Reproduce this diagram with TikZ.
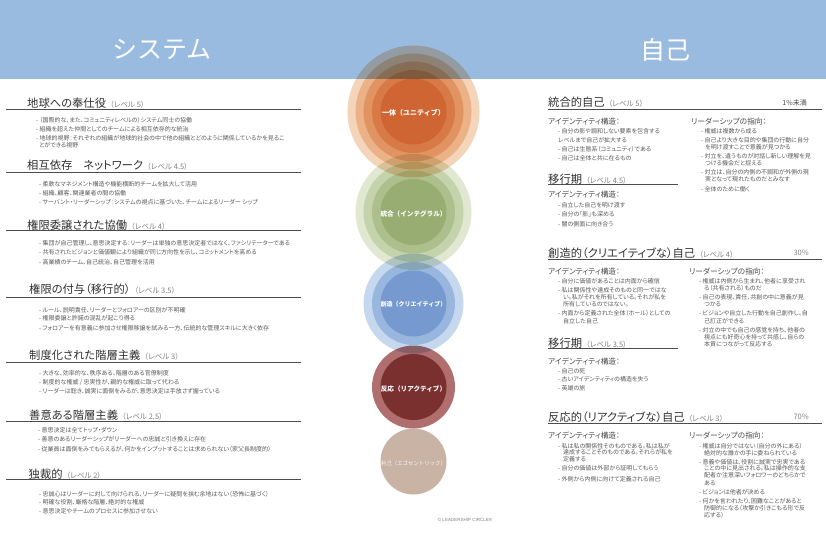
\documentclass[tikz,border=0pt]{standalone}
\usepackage{fontspec}
\setmainfont{Noto Sans CJK JP}[RawFeature=+palt]
\newfontfamily\nopalt{Noto Sans CJK JP}
\newfontfamily\lat{Liberation Sans}
\definecolor{band}{HTML}{9ABBE0}
\definecolor{orangeL}{HTML}{F5D5BA}
\definecolor{greenL}{HTML}{E0E8D1}
\definecolor{blueL}{HTML}{C6D8EE}
\definecolor{redL}{HTML}{B06F6E}
\definecolor{tanL}{HTML}{C9B3A4}
\definecolor{bodyc}{HTML}{5A5A5A}
\definecolor{subc}{HTML}{4A4A4A}
\definecolor{headc}{HTML}{303030}
\definecolor{levc}{HTML}{808080}
\tikzset{
  layer/.style={blend mode=multiply},
  ringtxt/.style={anchor=center,inner sep=0pt,text=white},
  bodytxt/.style={anchor=base west,inner sep=0pt,text=bodyc,yshift=-2pt,font=\fontsize{6}{7}\selectfont},
  subtxt/.style={anchor=base west,inner sep=0pt,text=subc,yshift=-2.5pt,font=\fontsize{7.7}{9}\selectfont},
  headtxt/.style={anchor=base west,inner sep=0pt,text=headc,yshift=-4pt,font=\fontsize{11.3}{13}\selectfont},
  pcttxt/.style={anchor=base east,inner sep=0pt,text=levc,yshift=-2.5pt,font=\fontsize{7.5}{8}\selectfont},
  rulel/.style={draw=black!70,line width=0.9pt},
  titletxt/.style={anchor=center,inner sep=0pt,text=white,font=\nopalt\fontsize{25}{28}\selectfont},
}
\newcommand{\bl}[3]{\node[bodytxt] at (#1,#2) {#3};}
\newcommand{\hd}[4]{\node[headtxt] at (#1,#2) {#3\hspace{4pt}{\fontsize{7.5}{8}\selectfont\color{levc}#4}};}
\newcommand{\sh}[3]{\node[subtxt] at (#1,#2) {#3};}
\begin{document}
\begin{tikzpicture}[x=1pt,y=-1pt]
\useasboundingbox (0,0) rectangle (826,540);
\fill[white] (0,0) rectangle (826,540);
\fill[band] (0,0) rectangle (826,79);
\node[titletxt] (tsys) at (162,50) {システム};
\node[titletxt] (tself) at (665,50) {自己};
% rings
\foreach \r in {66,58,50,41.5,33} \fill[orangeL,layer] (413.5,111.5) circle (\r);
\foreach \r in {58,50,41.5,33} \fill[greenL,layer] (413.5,212) circle (\r);
\foreach \r in {50,41.5,33} \fill[blueL,layer] (413.5,303.5) circle (\r);
\foreach \r in {41.5,33} \fill[redL,layer] (413.5,387) circle (\r);
\fill[tanL,layer] (413.5,461.5) circle (33);
\node[ringtxt,font=\nopalt\bfseries\fontsize{7}{8}\selectfont] (r1) at (413.5,112.7) {一体（ユニティブ）};
\node[ringtxt,font=\nopalt\bfseries\fontsize{6.6}{8}\selectfont] (r2) at (413.5,214) {統合（インテグラル）};
\node[ringtxt,font=\nopalt\bfseries\fontsize{6}{8}\selectfont] (r3) at (413.5,304) {創造（クリエイティブ）};
\node[ringtxt,font=\nopalt\bfseries\fontsize{6.6}{8}\selectfont] (r4) at (413.5,389) {反応（リアクティブ）};
\node[ringtxt,font=\nopalt\fontsize{5.4}{8}\selectfont,text=white!90!tanL] (r5) at (413.5,463) {利己（エゴセントリック）};
% left rules
\foreach \y in {109,172.3,230.7,297,362,421.7,479.7} \draw[rulel] (6,\y) -- (300.5,\y);
% left column
\hd{27}{104}{地球への奉仕役}{（レベル 5）}
\bl{36}{120.7}{- （国際的な、また、コミュニティレベルの）システム同士の協働}
\bl{36}{129.7}{- 組織を超えた仲間としてのチームによる相互依存的な統治}
\bl{36}{138.3}{- 地球的視野：それぞれの組織が地球的社会の中で他の組織とどのように関係しているかを見るこ}
\bl{39}{146}{とができる視野}
\hd{27}{166}{相互依存\hspace{11pt}ネットワーク}{（レベル 4.5）}
\bl{39}{184.7}{- 柔軟なマネジメント構造や機能横断的チームを拡大して活用}
\bl{39}{193.7}{- 組織、顧客、関連業者の間の協働}
\bl{39}{202.3}{- サーバント・リーダーシップ：システムの視点に基づいた、チームによるリーダー シップ}
\hd{27}{225}{権限委譲された協働}{（レベル 4）}
\bl{39}{243}{- 集団が自己管理し、意思決定する：リーダーは単独の意思決定者ではなく、ファシリテーターである}
\bl{39}{252.7}{- 共有されたビジョンと価値観により組織が同じ方向性を示し、コミットメントを高める}
\bl{39}{262.3}{- 高業績のチーム、自己統治、自己管理を活用}
\hd{29}{289}{権限の付与（移行的）}{（レベル 3.5）}
\bl{39}{310}{- ルール、説明責任、リーダーとフォロアーの区別が不明確}
\bl{39}{318.7}{- 権限委譲と許諾の混乱が起こり得る}
\bl{39}{328}{- フォロアーを有意義に参加させ権限移譲を試みる一方、伝統的な管理スキルに大きく依存}
\hd{29}{355}{制度化された階層主義}{（レベル 3）}
\bl{39}{373}{- 大きな、効率的な、秩序ある、階層のある官僚制度}
\bl{39}{382}{- 制度的な権威 / 忠実性が、親的な権威に取って代わる}
\bl{39}{391}{- リーダーは聡き、誠実に面倒をみるが、意思決定は手放さず握っている}
\hd{29}{415}{善意ある階層主義}{（レベル 2.5）}
\bl{38}{430.7}{- 意思決定は全てトップ・ダウン}
\bl{38}{439.7}{- 善意のあるリーダーシップがリーダーへの忠誠と引き換えに存在}
\bl{38}{449}{- 従業員は面倒をみてもらえるが、何かをインプットすることは求められない（家父長制度的）}
\hd{28.5}{474}{独裁的}{（レベル 2）}
\bl{39}{494}{- 忠誠心はリーダーに対して向けられる、リーダーに疑問を挟む余地はない（恐怖に基づく）}
\bl{39}{502.7}{- 明確な役割、厳格な階層、絶対的な権威}
\bl{39}{511.7}{- 意思決定やチームのプロセスに参加させない}
% right rules
\foreach \y in {109.3,259.3,423.7} \draw[rulel] (548,\y) -- (822,\y);
\foreach \y in {184.3,348.7} \draw[rulel] (548,\y) -- (678,\y);
% right: level 5
\hd{548}{103}{統合的自己}{（レベル 5）}
\node[pcttxt,text=subc,font=\fontsize{7}{8}\selectfont] (p1) at (807,103) {1\%未満};
\sh{548}{122}{アイデンティティ構造：}
\bl{558}{131.7}{- 自分の影や調和しない要素を包含する}
\bl{558}{140.7}{レベルまで自己が拡大する}
\bl{558}{150}{- 自己は生態系（コミュニティ）である}
\bl{558}{158.7}{- 自己は全体と共に在るもの}
\sh{691}{122}{リーダーシップの指向：}
\bl{701}{131.7}{- 権威は複数から成る}
\bl{701}{141}{- 自己より大きな目的や集団の行動に自分}
\bl{705}{147.7}{を明け渡すことで意義が見つかる}
\bl{701}{156.7}{- 対立を、違うものが対話し新しい理解を見}
\bl{705}{164}{つける機会だと捉える}
\bl{701}{172.3}{- 対立は、自分の内側の不調和が外側の現}
\bl{705}{179.3}{実となって現れたものだとみなす}
\bl{701}{189.7}{- 全体のために働く}
% transition 4.5
\hd{548}{179}{移行期}{（レベル 4.5）}
\sh{548}{195.3}{アイデンティティ構造：}
\bl{558}{205.7}{- 自立した自己を明け渡す}
\bl{558}{214.7}{- 自分の「影」も深める}
\bl{558}{224}{- 闇の側面に向き合う}
% level 4
\hd{548}{253.3}{創造的（クリエイティブな）自己}{（レベル 4）}
\node[pcttxt] (p2) at (809,253) {30\%};
\sh{548}{272.3}{アイデンティティ構造：}
\bl{558}{281.7}{- 自分に価値があることは内面から確信}
\bl{558}{290.7}{- 私は関係性や達成そのものと同一ではな}
\bl{563}{297.7}{い。私がそれを所有している。それが私を}
\bl{563}{304.7}{所有しているのではない。}
\bl{558}{313}{- 内面から定義された全体（ホール）としての}
\bl{563}{321.3}{自立した自己}
\sh{689}{272.3}{リーダーシップの指向：}
\bl{699}{281.7}{- 権威は内側から生まれ、他者に享受され}
\bl{704}{288.3}{る（共有される）ものだ}
\bl{699}{297.7}{- 自己の表現、責任、共創の中に意義が見}
\bl{704}{304.7}{つかる}
\bl{699}{313}{- ビジョンや自立した行動を自己創作し、自}
\bl{704}{321.3}{己訂正ができる}
\bl{699}{330.7}{- 対立の中でも自己の感覚を持ち、他者の}
\bl{704}{337.7}{視点にも好奇心を持って共感し、自らの}
\bl{704}{344.7}{本質につながって反応する}
% transition 3.5
\hd{548}{343.3}{移行期}{（レベル 3.5）}
\sh{548}{361.7}{アイデンティティ構造：}
\bl{558}{371}{- 自己の死}
\bl{558}{379.7}{- 古いアイデンティティの構造を失う}
\bl{558}{388.3}{- 英雄の旅}
% level 3
\hd{548}{417.3}{反応的（リアクティブな）自己}{（レベル 3）}
\node[pcttxt] (p3) at (809,417) {70\%};
\sh{548}{436}{アイデンティティ構造：}
\bl{558}{446}{- 私は私の関係性そのものである。私は私が}
\bl{563}{452.7}{達成することそのものである。それらが私を}
\bl{563}{459.7}{定義する}
\bl{558}{468.7}{- 自分の価値は外部から証明してもらう}
\bl{558}{479}{- 外側から内側に向けて定義される自己}
\sh{689}{436}{リーダーシップの指向：}
\bl{699}{446}{- 権威は自分ではない（自分の外にある）}
\bl{704}{453}{絶対的な誰かの手に委ねられている}
\bl{699}{462}{- 意義や価値は、役割に誠実で忠実である}
\bl{704}{468.7}{ことの中に見出される。私は操作的な支}
\bl{704}{475.7}{配者か注意深いフォロワーのどちらかで}
\bl{704}{483.7}{ある}
\bl{699}{492.7}{- ビジョンは他者が決める}
\bl{699}{501.7}{- 何かを言われたり、困難なことがあると}
\bl{704}{508.7}{防御的になる（攻撃か引きこもる形で反}
\bl{704}{515.7}{応する）}
\node[anchor=center,inner sep=0pt,text=black!50,font=\lat\fontsize{4.5}{5}\selectfont] (foot) at (465,520) {© LEADERSHIP CIRCLE®};
\end{tikzpicture}
\end{document}
